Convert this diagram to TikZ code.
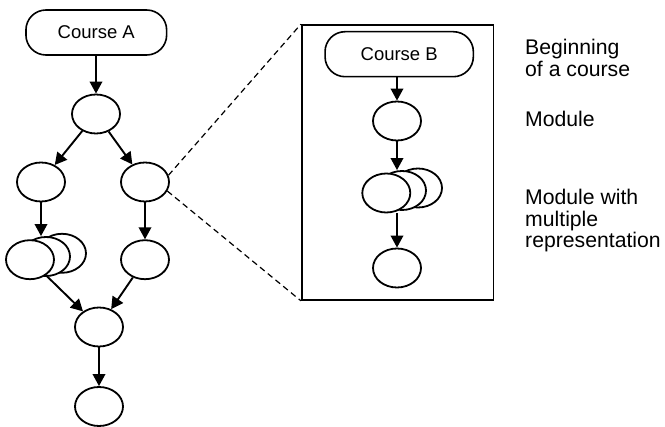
\documentclass[tikz,border=0pt]{standalone}
\usepackage{fontspec}
\setmainfont{Liberation Sans}
\usetikzlibrary{arrows.meta,shapes.geometric}

\begin{document}
\begin{tikzpicture}[x=1pt,y=-1pt,
  module/.style={draw, line width=1.8pt, ellipse, fill=white,
    minimum width=48pt, minimum height=39pt, inner sep=0pt},
  terminal/.style={draw, line width=1.6pt, rounded corners=20pt,
    minimum height=45pt, inner sep=0pt,
    font=\fontsize{18.5}{20}\selectfont},
  flow/.style={line width=1.9pt, -{Triangle[length=12pt,width=12.5pt]}},
  zoomline/.style={line width=1.2pt, dash pattern=on 6pt off 4pt},
  legend/.style={anchor=base west, inner sep=0pt, align=left,
    font=\fontsize{21.2}{21.7}\selectfont}
]
\useasboundingbox (0,0) rectangle (665,427);

% ---- Course A ----
\node[terminal, minimum width=140.7pt] (courseA) at (96.3,32.5) {Course A};
\node[module] (m1) at (96,114) {};
\node[module] (l1) at (41,182) {};
\node[module] (r1) at (145,182) {};
% module with multiple representations (left branch)
\node[module] (lback)  at (62,253.3) {};
\node[module] (lmid)   at (46,256.5) {};
\node[module] (lfront) at (30,259.7) {};
\node[module] (r2) at (145,259.7) {};
\node[module] (merge) at (99,327) {};
\node[module] (last) at (99,406.5) {};

\draw[flow] (courseA.south -| m1) -- (m1.north);
\draw[flow] (m1) -- (l1);
\draw[flow] (m1) -- (r1);
\draw[flow] (l1.south) -- (l1.south |- lmid.north);
\draw[flow] (r1) -- (r2);
\draw[flow] (lfront) -- (merge);
\draw[flow] (r2) -- (merge);
\draw[flow] (merge) -- (last);

% ---- Course B (detail) ----
\node[draw, line width=1.6pt, minimum width=191.6pt, minimum height=275pt,
  inner sep=0pt] (detail) at (397.5,162.5) {};
\node[terminal, minimum width=148.3pt] (courseB) at (399.2,54.2) {Course B};
\node[module] (b1) at (397,121) {};
\node[module] (bback)  at (418,188) {};
\node[module] (bmid)   at (402,190.5) {};
\node[module] (bfront) at (386.3,193) {};
\node[module] (b3) at (397,268) {};

\draw[flow] (courseB.south -| b1) -- (b1.north);
\draw[flow] (b1.south) -- (b1.south |- bmid.north);
\draw[flow] (b3 |- bfront.south) -- (b3.north);

% dashed zoom lines
\draw[zoomline] (r1.16) -- (detail.north west);
\draw[zoomline] (r1.-22) -- (detail.south west);

% ---- legend (anchored on the baseline of each entry's last line) ----
\node[legend] (lgStart) at (525,76.7) {Beginning\\of a course};
\node[legend] (lgModule) at (525,127) {Module};
\node[legend] (lgMulti) at (525,248) {Module with\\multiple\\representation};
\end{tikzpicture}
\end{document}
